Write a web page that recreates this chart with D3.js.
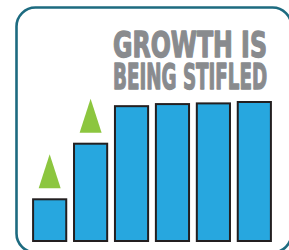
<!DOCTYPE html>
<html>
<head>
<meta charset="utf-8">
<script src="https://cdn.jsdelivr.net/npm/d3@7"></script>
<style>
  html, body { margin: 0; padding: 0; background: #fff; }
  svg { display: block; }
</style>
</head>
<body>
<script>
// chart data
const steps = ["1", "2", "3", "4", "5", "6"];
const levels = [30, 70, 97, 98.5, 99, 100];
const rising = [true, true, false, false, false, false]; // green arrow above bar
const titleLines = ["GROWTH IS", "BEING STIFLED"];

const width = 289;
const height = 250;

const svg = d3.select("body")
  .append("svg")
  .attr("width", width)
  .attr("height", height);

// rounded frame, runs past the right and bottom edges
svg.append("rect")
  .attr("x", 16.5)
  .attr("y", 7.5)
  .attr("width", 275)
  .attr("height", 245)
  .attr("rx", 19)
  .attr("fill", "#fff")
  .attr("stroke", "#1d6b80")
  .attr("stroke-width", 2.6);

const x = d3.scaleBand()
  .domain(steps)
  .range([29, 275])
  .paddingInner(0.19)
  .paddingOuter(0.1);

const y = d3.scaleLinear()
  .domain([0, 100])
  .range([241, 102]);

// bars
svg.append("g")
  .selectAll("rect")
  .data(steps)
  .join("rect")
  .attr("x", d => x(d))
  .attr("y", (d, i) => y(levels[i]))
  .attr("width", x.bandwidth())
  .attr("height", (d, i) => y(0) - y(levels[i]))
  .attr("fill", "#27a7df")
  .attr("stroke", "#231f20")
  .attr("stroke-width", 2);

// green triangles over the growing bars
const triW = 22, triH = 34, gap = 11;
svg.append("g")
  .selectAll("path")
  .data(steps.filter((d, i) => rising[i]))
  .join("path")
  .attr("d", d => {
    const i = steps.indexOf(d);
    const cx = x(d) + x.bandwidth() / 2;
    const base = y(levels[i]) - gap;
    return `M${cx - triW / 2},${base}L${cx},${base - triH}L${cx + triW / 2},${base}Z`;
  })
  .attr("fill", "#8cc63f");

// title: heavy condensed, squeezed to a common width
const titleW = 155;
const title = svg.append("g")
  .selectAll("text")
  .data(titleLines)
  .join("text")
  .attr("font-family", "'Liberation Sans Narrow', 'DejaVu Sans Condensed', 'Liberation Sans', sans-serif")
  .attr("font-weight", "bold")
  .attr("font-size", 35)
  .attr("fill", "#898b8e")
  .attr("stroke", "#898b8e")
  .attr("stroke-width", 1.3)
  .attr("stroke-linejoin", "round")
  .text(d => d);

title.attr("transform", function (d, i) {
  const w = this.getComputedTextLength() + 1.3;
  return `translate(113,${57 + i * 32}) scale(${titleW / w},1)`;
});
</script>
</body>
</html>
